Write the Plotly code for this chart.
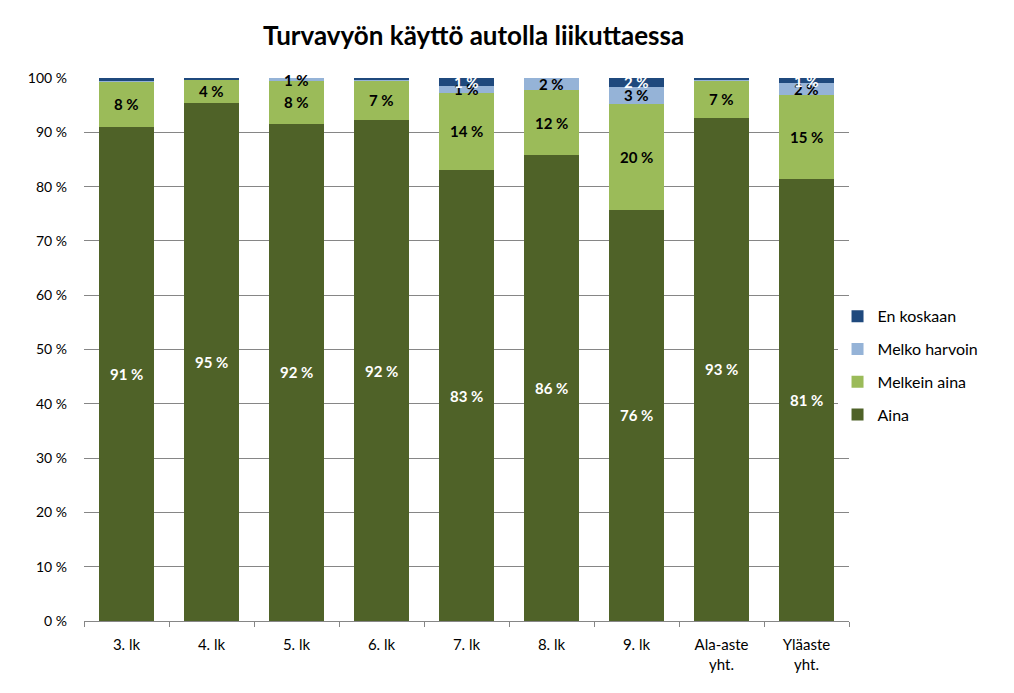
import plotly.graph_objects as go

categories = ["3. lk", "4. lk", "5. lk", "6. lk", "7. lk", "8. lk", "9. lk", "Ala-aste<br>yht.", "Yläaste<br>yht."]
aina = [91.0, 95.4, 91.6, 92.2, 83.0, 85.8, 75.7, 92.7, 81.4]
melkein_aina = [8.4, 4.4, 7.8, 7.4, 14.3, 12.0, 19.6, 6.8, 15.4]
melko_harvoin = [0.1, 0.0, 0.6, 0.1, 1.3, 2.2, 3.1, 0.2, 2.2]
en_koskaan = [0.5, 0.2, 0.0, 0.3, 1.4, 0.0, 1.6, 0.3, 1.0]

series = [
    ("Aina", aina, "#4F6228", "white"),
    ("Melkein aina", melkein_aina, "#9BBB59", "black"),
    ("Melko harvoin", melko_harvoin, "#95B3D7", "black"),
    ("En koskaan", en_koskaan, "#1F497D", "white"),
]

FONT = "Lato"
fig = go.Figure()
annotations = []
base = [0.0] * len(categories)
for k, (name, vals, color, tcolor) in enumerate(series):
    fig.add_trace(go.Bar(x=categories, y=vals, name=name, legendgroup=name,
                         legendrank=1000 - k,
                         marker=dict(color=color, line=dict(width=0))))
    for i, v in enumerate(vals):
        if v >= 0.55:
            annotations.append(dict(
                x=categories[i], y=base[i] + v / 2, xref="x", yref="y",
                text=f"{round(v)} %", showarrow=False,
                font=dict(family=FONT, size=15, color=tcolor, weight="bold"),
            ))
        base[i] += v

annotations.append(dict(
    x=0.5, y=1.0, xref="paper", yref="paper", yanchor="bottom", yshift=25, xshift=7,
    text="Turvavyön käyttö autolla liikuttaessa", showarrow=False,
    font=dict(family=FONT, size=26, color="black", weight="bold"),
))

fig.update_layout(
    barmode="stack",
    bargap=0.36,
    width=1014, height=693,
    margin=dict(l=84, r=165, t=78, b=72),
    paper_bgcolor="white", plot_bgcolor="white",
    font=dict(family=FONT, size=14, color="black"),
    annotations=annotations,
    legend=dict(
        x=0.985, y=0.47, xanchor="left", yanchor="middle",
        traceorder="grouped", font=dict(family=FONT, size=16, color="black"),
        itemwidth=30, tracegroupgap=9,
    ),
    showlegend=True,
)
fig.update_yaxes(
    range=[0, 100], dtick=10, ticksuffix=" %",
    showgrid=True, gridcolor="#868686", gridwidth=1,
    zeroline=False, showline=False,
    ticks="", ticklabelstandoff=16, tickfont=dict(family=FONT, size=14, color="black"),
)
fig.update_xaxes(
    showline=True, linecolor="#868686", linewidth=1,
    ticks="outside", tickson="boundaries", ticklen=5, tickcolor="#868686",
    ticklabelstandoff=10,
    tickfont=dict(family=FONT, size=15, color="black"),
)

fig.write_html("out.html")
